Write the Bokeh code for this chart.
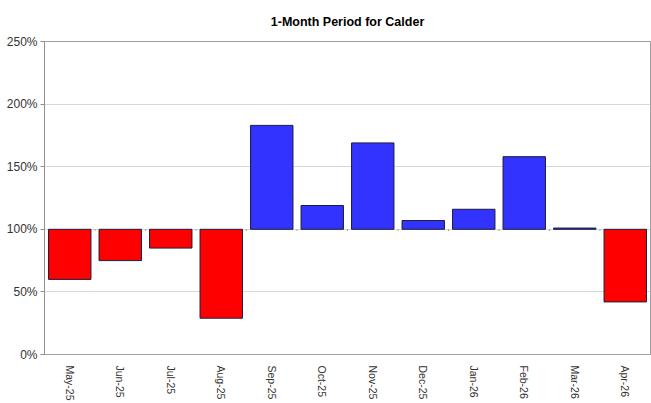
import math
from bokeh.plotting import figure
from bokeh.models import ColumnDataSource, FactorRange, Range1d, PrintfTickFormatter, FixedTicker
from bokeh.embed import file_html
from bokeh.resources import INLINE

months = ["May-25", "Jun-25", "Jul-25", "Aug-25", "Sep-25", "Oct-25",
          "Nov-25", "Dec-25", "Jan-26", "Feb-26", "Mar-26", "Apr-26"]
values = [60, 75, 85, 29, 183, 119, 169, 107, 116, 158, 101, 42]
baseline = 100
y_ticks = [0, 50, 100, 150, 200, 250]

colors = ["#ff0000" if v < baseline else "#3333ff" for v in values]
src = ColumnDataSource(dict(month=months, value=values, base=[baseline] * len(values), color=colors))

p = figure(x_range=FactorRange(*months, range_padding=0), y_range=Range1d(0, 250),
           width=651, height=403, output_backend="svg", toolbar_location=None,
           title="1-Month Period for Calder", min_border_left=44, min_border_right=1,
           min_border_top=41, min_border_bottom=47)

p.title.align = "center"
p.title.text_font = "Liberation Sans"
p.title.text_font_size = "12.5px"
p.title.text_font_style = "bold"
p.title.text_color = "#000000"
p.title.offset = 0
p.title.standoff = 25

p.vbar(x="month", bottom="base", top="value", width=0.84, fill_color="color",
       line_color="#1c1c3c", line_width=1, source=src)

# category-axis tick marks at the 100% crossing
bounds = [(m, -0.5) for m in months] + [(months[-1], 0.5)]
p.segment(x0=bounds, x1=bounds, y0=[baseline] * len(bounds), y1=[baseline - 1.3] * len(bounds),
          line_color="#999999", line_width=1)

p.outline_line_color = "#a0a0a0"
p.outline_line_width = 1

p.xgrid.grid_line_color = None
p.ygrid.grid_line_color = "#d8d8d8"
p.ygrid.ticker = FixedTicker(ticks=y_ticks)

p.yaxis.ticker = FixedTicker(ticks=y_ticks)
p.yaxis.formatter = PrintfTickFormatter(format="%d%%")
p.yaxis.axis_line_color = "#909090"
p.yaxis.major_tick_line_color = "#909090"
p.yaxis.major_tick_out = 4
p.yaxis.major_tick_in = 0
p.yaxis.minor_tick_line_color = None
p.yaxis.major_label_text_font = "Liberation Sans"
p.yaxis.major_label_text_font_size = "12px"
p.yaxis.major_label_text_color = "#333333"
p.yaxis.major_label_standoff = 3

p.xaxis.axis_line_color = None
p.xaxis.major_tick_line_color = None
p.xaxis.minor_tick_line_color = None
p.xaxis.major_label_orientation = -math.pi / 2
p.xaxis.major_label_text_font = "Liberation Sans"
p.xaxis.major_label_text_font_size = "10.5px"
p.xaxis.major_label_text_color = "#333333"
p.xaxis.major_label_standoff = 5

p.background_fill_color = "white"
p.border_fill_color = "white"

open("out.html", "w").write(file_html(p, INLINE))
